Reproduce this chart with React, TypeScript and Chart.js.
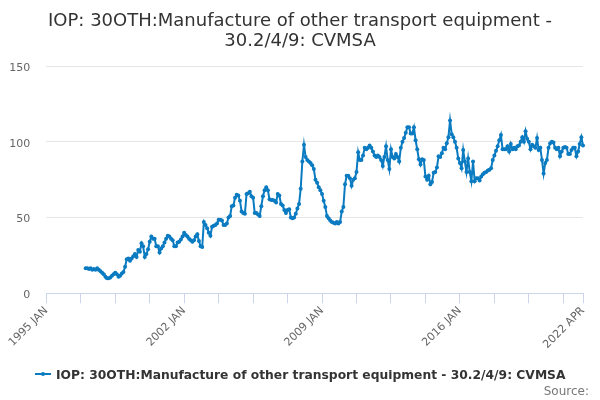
import React, { useEffect, useRef } from "react";
import { Chart, registerables } from "chart.js";

Chart.register(...registerables);

// ---------- data ----------
const MONTHS = ["JAN", "FEB", "MAR", "APR", "MAY", "JUN", "JUL", "AUG", "SEP", "OCT", "NOV", "DEC"];
const FIRST_CATEGORY = "1995 JAN";
const LAST_CATEGORY = "2022 APR";
const SERIES_START = "1997 JAN";

const TITLE_LINES = ["IOP: 30OTH:Manufacture of other transport equipment -", "30.2/4/9: CVMSA"];
const SERIES_NAME = "IOP: 30OTH:Manufacture of other transport equipment - 30.2/4/9: CVMSA";
const CREDITS = "Source:";

const xLabelTicks = ["1995 JAN", "2002 JAN", "2009 JAN", "2016 JAN", "2022 APR"];
const xTickEveryMonths = 21;
const yTicks = [0, 50, 100, 150];

const v1997 = [16.5, 16.5, 16, 16.5, 15.5, 16, 15.5, 16.5, 15.5, 14.5, 13.5, 12.5];
const v1998 = [11, 10, 10, 10.5, 11.5, 12.5, 13.5, 12.5, 11, 11.5, 13, 14];
const v1999 = [17.5, 22.5, 23, 21.5, 23, 24.5, 26, 24, 28.5, 27.5, 33, 31];
const v2000 = [24, 26, 29, 34, 37.5, 36, 36, 31, 31, 27, 29.5, 31];
const v2001 = [33.5, 36, 38, 37.5, 36, 35, 31, 31, 33.5, 34, 35.5, 37.5];
const v2002 = [40, 38.5, 37.5, 36, 35, 34, 35, 37.5, 39, 34.5, 31, 30.5];
const v2003 = [47, 45, 43, 40, 38, 44, 44.5, 45, 46, 48.5, 48.5, 48];
const v2004 = [45, 45, 46, 50, 51, 57.5, 58, 63, 65, 64.5, 61, 54];
const v2005 = [53, 52.5, 65.5, 66, 67, 64, 63, 53, 53, 52, 51, 57.5];
const v2006 = [64, 68, 70, 68, 62, 61.5, 61.5, 61, 60, 65.5, 64.5, 59];
const v2007 = [58, 55, 53, 55, 55.5, 50, 49.5, 50, 52.5, 56, 59, 69];
const v2008 = [87, 98, 90, 88, 87, 86, 84.5, 82, 75, 73, 70, 68];
const v2009 = [65.5, 61, 57, 51, 49.5, 48, 47, 46.5, 46, 47, 46, 47];
const v2010 = [54, 57, 72, 77.5, 77.5, 76, 71, 75, 76, 80, 93, 88];
const v2011 = [88, 91, 96, 95, 96, 97.5, 96, 93.5, 91, 90, 91, 90];
const v2012 = [88, 84, 90, 97, 88, 82, 95, 90, 89, 92, 90, 87];
const v2013 = [96, 100, 102.5, 106, 109.5, 109.5, 105.5, 105.5, 109.5, 101, 95, 88.5];
const v2014 = [85, 88.5, 88, 77, 75, 77.5, 72, 73.5, 79.5, 80, 83, 90.5];
const v2015 = [90, 92.5, 96, 95, 99, 103, 114, 105, 103, 100, 96, 89];
const v2016 = [86, 82.5, 94.5, 87, 80, 89, 80, 74, 87, 74, 76, 76];
const v2017 = [74.5, 77, 78.5, 79.5, 80, 81, 81.5, 82.5, 88, 91, 94, 97];
const v2018 = [101, 104.5, 95, 95, 95, 97, 93.5, 98.5, 95, 96, 95, 97];
const v2019 = [97.5, 100, 103, 100, 107, 102, 100, 95, 98, 97, 96, 102.5];
const v2020 = [94.5, 96, 88, 79, 86, 88, 96, 99, 100, 99.5, 96, 95];
const v2021 = [96, 90.5, 93.5, 96, 96.5, 96, 92, 92, 94.5, 96, 96, 90.5];
const v2022 = [93.5, 98.5, 103, 97.5];

const cvmsa = [
  ...v1997, ...v1998, ...v1999, ...v2000, ...v2001, ...v2002, ...v2003,
  ...v2004, ...v2005, ...v2006, ...v2007, ...v2008, ...v2009, ...v2010,
  ...v2011, ...v2012, ...v2013, ...v2014, ...v2015, ...v2016, ...v2017,
  ...v2018, ...v2019, ...v2020, ...v2021, ...v2022,
];

// monthly categories from FIRST_CATEGORY to LAST_CATEGORY
const categories: string[] = [];
{
  const [fy, fm] = FIRST_CATEGORY.split(" ");
  const [ly, lm] = LAST_CATEGORY.split(" ");
  let y = parseInt(fy, 10);
  let m = MONTHS.indexOf(fm);
  const endY = parseInt(ly, 10);
  const endM = MONTHS.indexOf(lm);
  while (y < endY || (y === endY && m <= endM)) {
    categories.push(`${y} ${MONTHS[m]}`);
    m++;
    if (m === 12) { m = 0; y++; }
  }
}
const startIdx = categories.indexOf(SERIES_START);
const seriesData = categories.map((_, i) =>
  i >= startIdx && i - startIdx < cvmsa.length ? cvmsa[i - startIdx] : null
);
const xTickIndices: number[] = [];
for (let i = 0; i < categories.length; i += xTickEveryMonths) xTickIndices.push(i);
if (xTickIndices[xTickIndices.length - 1] !== categories.length - 1) xTickIndices.push(categories.length - 1);

// ---------- style ----------
const LINE_COLOR = "#0b7bc1";
const FONT = '"DejaVu Sans", sans-serif';

const textPlugin = {
  id: "hcTexts",
  afterDraw(chart: any) {
    const ctx = chart.ctx as CanvasRenderingContext2D;
    ctx.save();
    // title
    ctx.fillStyle = "#333333";
    ctx.font = `18px ${FONT}`;
    ctx.textAlign = "center";
    ctx.textBaseline = "alphabetic";
    TITLE_LINES.forEach((t, i) => ctx.fillText(t, 300, 25.5 + i * 20.5));
    // legend
    const ly = 374;
    ctx.strokeStyle = LINE_COLOR;
    ctx.lineWidth = 2;
    ctx.beginPath();
    ctx.moveTo(35, ly);
    ctx.lineTo(51, ly);
    ctx.stroke();
    ctx.fillStyle = LINE_COLOR;
    ctx.beginPath();
    ctx.arc(43, ly, 2, 0, Math.PI * 2);
    ctx.fill();
    ctx.fillStyle = "#333333";
    ctx.font = `bold 12.3px ${FONT}`;
    ctx.textAlign = "left";
    ctx.fillText(SERIES_NAME, 56, 378.5);
    // credits
    ctx.fillStyle = "#777777";
    ctx.font = `12px ${FONT}`;
    ctx.textAlign = "right";
    ctx.fillText(CREDITS, 589, 395);
    ctx.restore();
  },
};

export default function App() {
  const ref = useRef<HTMLCanvasElement | null>(null);
  useEffect(() => {
    if (!ref.current) return;
    const chart = new Chart(ref.current, {
      type: "line",
      data: {
        labels: categories,
        datasets: [
          {
            label: SERIES_NAME,
            data: seriesData,
            borderColor: LINE_COLOR,
            backgroundColor: LINE_COLOR,
            borderWidth: 2,
            pointRadius: 2,
            pointBorderWidth: 0,
            pointBackgroundColor: LINE_COLOR,
            tension: 0,
            spanGaps: false,
          },
        ],
      },
      options: {
        animation: false,
        responsive: false,
        layout: { padding: { top: 66, right: 17, bottom: 0, left: 0 } },
        plugins: { legend: { display: false }, title: { display: false }, tooltip: { enabled: false } },
        scales: {
          x: {
            type: "category",
            offset: false,
            afterFit: (s: any) => { s.height = 106.7; },
            afterBuildTicks: (s: any) => { s.ticks = xTickIndices.map((v) => ({ value: v })); },
            grid: { drawOnChartArea: false, drawTicks: true, tickLength: 10, color: "#ccd6eb", lineWidth: 1 },
            border: { display: true, color: "#ccd6eb", width: 1 },
            ticks: {
              autoSkip: false,
              minRotation: 45,
              maxRotation: 45,
              padding: 1,
              color: "#666666",
              font: { family: FONT, size: 11 },
              callback: (value: any) => {
                const lab = categories[value as number];
                return xLabelTicks.includes(lab) ? lab : "";
              },
            },
          },
          y: {
            min: yTicks[0],
            max: yTicks[yTicks.length - 1],
            afterFit: (s: any) => { s.width = 46.3; },
            afterBuildTicks: (s: any) => { s.ticks = yTicks.map((v) => ({ value: v })); },
            grid: { color: "#e6e6e6", drawTicks: false, lineWidth: 1 },
            border: { display: false },
            ticks: {
              padding: 16,
              labelOffset: 2,
              color: "#666666",
              font: { family: FONT, size: 11 },
            },
          },
        },
      },
      plugins: [textPlugin],
    } as any);
    return () => chart.destroy();
  }, []);
  return (
    <div style={{ position: "absolute", left: 0, top: 0, width: 600, height: 400, background: "#fff" }}>
      <canvas ref={ref} width={600} height={400} style={{ width: 600, height: 400, display: "block" }} />
    </div>
  );
}
